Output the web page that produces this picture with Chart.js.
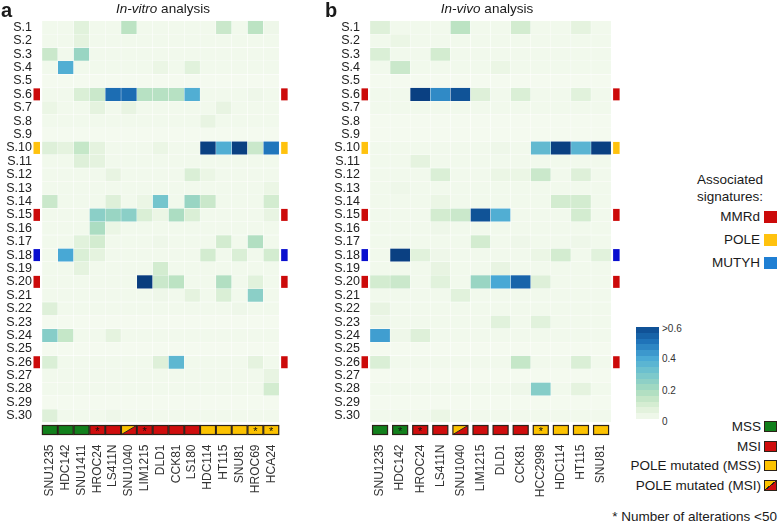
<!DOCTYPE html>
<html>
<head>
<meta charset="utf-8">
<script src="https://cdn.jsdelivr.net/npm/chart.js@4.4.1/dist/chart.umd.min.js"></script>
<style>
  body { margin: 0; background: #fff; font-family: 'Liberation Sans', Arial, sans-serif; color: #1a1a1a; }
  #page { position: relative; width: 778px; height: 525px; overflow: hidden; }
  .panel { position: absolute; top: 0; height: 500px; }
  .abs { position: absolute; white-space: nowrap; line-height: 1; }
  .letter { font-weight: bold; font-size: 20px; }
  .title { font-size: 13.5px; transform: translateX(-50%); }
  .leg { font-size: 13.5px; text-align: right; }
  .box { position: absolute; width: 13px; height: 12px; }
  .sbox { position: absolute; width: 11px; height: 9px; border: 1.3px solid #2b2118; }
  .cb { font-size: 10px; color: #333; }
</style>
</head>
<body>
<div id="page">
  <div class="panel" style="left:0;width:300px"><canvas id="vitro"></canvas></div>
  <div class="panel" style="left:320px;width:310px"><canvas id="vivo"></canvas></div>

  <div class="abs letter" style="left:1px;top:0px">a</div>
  <div class="abs title" style="left:163px;top:2px"><i>In-vitro</i> analysis</div>
  <div class="abs letter" style="left:325px;top:0px">b</div>
  <div class="abs title" style="left:487px;top:2px"><i>In-vivo</i> analysis</div>

  <div class="abs leg" style="left:680px;top:171px;width:100px;text-align:center;line-height:17px">Associated<br>signatures:</div>

  <div id="colorbar" class="abs" style="left:636px;top:327px;width:23px;height:92px"></div>
  <div class="abs cb" style="left:662px;top:324px">&gt;0.6</div>
  <div class="abs cb" style="left:662px;top:354px">0.4</div>
  <div class="abs cb" style="left:662px;top:386px">0.2</div>
  <div class="abs cb" style="left:662px;top:417px">0</div>

  <div class="abs leg" style="right:1px;top:510px">* Number of alterations &lt;50</div>
</div>
<script>
const rowLabels = ['S.1','S.2','S.3','S.4','S.5','S.6','S.7','S.8','S.9','S.10',
  'S.11','S.12','S.13','S.14','S.15','S.16','S.17','S.18','S.19','S.20',
  'S.21','S.22','S.23','S.24','S.25','S.26','S.27','S.28','S.29','S.30'];

// in-vitro panel
const vitroLines = ['SNU1235','HDC142','SNU1411','HROC24','LS411N','SNU1040','LIM1215','DLD1','CCK81','LS180','HDC114','HT115','SNU81','HROC69','HCA24'];
const vitroStatus = ['MSS','MSS','MSS','MSI','MSI','POLE_MSI','MSI','MSI','MSI','MSI','POLE','POLE','POLE','POLE','POLE'];
const vitroStar = [0,0,0,1,0,0,1,0,0,0,0,0,0,1,1];
const vitroValues = [
  [0.01,0.01,0.06,0.01,0.01,0.15,0.01,0.01,0.01,0.01,0.01,0.12,0.01,0.15,0.02],
  [0.01,0.01,0.05,0.01,0.01,0.01,0.01,0.01,0.01,0.01,0.01,0.01,0.01,0.01,0.01],
  [0.12,0.01,0.22,0.01,0.01,0.01,0.01,0.01,0.01,0.01,0.01,0.01,0.01,0.01,0.01],
  [0.01,0.38,0.01,0.01,0.01,0.01,0.01,0.03,0.01,0.06,0.01,0.01,0.01,0.01,0.01],
  [0,0,0,0,0,0,0,0,0,0,0,0,0,0,0],
  [0.01,0.01,0.08,0.12,0.52,0.52,0.16,0.16,0.16,0.38,0.01,0.01,0.01,0.02,0.01],
  [0.03,0.01,0.01,0.05,0.01,0.04,0.01,0.01,0.01,0.01,0.01,0.04,0.01,0.01,0.01],
  [0.01,0.01,0.01,0.01,0.01,0.01,0.01,0.01,0.01,0.01,0.04,0.01,0.01,0.01,0.01],
  [0,0,0,0,0,0,0,0,0,0,0,0,0,0,0],
  [0.07,0.05,0.13,0.05,0.01,0.01,0.01,0.03,0.01,0.01,0.66,0.38,0.66,0.12,0.5],
  [0.01,0.01,0.07,0.05,0.01,0.01,0.01,0.01,0.01,0.01,0.01,0.01,0.01,0.01,0.01],
  [0.01,0.01,0.01,0.01,0.04,0.01,0.01,0.01,0.01,0.08,0.03,0.01,0.01,0.01,0.01],
  [0.01,0.01,0.01,0.01,0.01,0.01,0.01,0.01,0.01,0.01,0.01,0.01,0.01,0.01,0.03],
  [0.12,0.01,0.01,0.01,0.07,0.01,0.03,0.3,0.01,0.22,0.12,0.01,0.01,0.01,0.1],
  [0.01,0.01,0.01,0.25,0.22,0.25,0.08,0.03,0.18,0.08,0.01,0.01,0.01,0.01,0.04],
  [0.01,0.01,0.01,0.18,0.03,0.01,0.01,0.01,0.01,0.01,0.01,0.01,0.01,0.01,0.01],
  [0.01,0.01,0.06,0.1,0.01,0.01,0.01,0.02,0.01,0.01,0.01,0.1,0.01,0.17,0.01],
  [0.01,0.4,0.08,0.05,0.01,0.01,0.01,0.01,0.01,0.01,0.1,0.01,0.08,0.01,0.1],
  [0.01,0.01,0.05,0.01,0.01,0.01,0.01,0.1,0.01,0.01,0.01,0.01,0.01,0.01,0.01],
  [0.01,0.01,0.01,0.01,0.01,0.01,0.68,0.12,0.15,0.01,0.01,0.17,0.01,0.06,0.01],
  [0.01,0.01,0.01,0.01,0.01,0.01,0.01,0.02,0.01,0.05,0.01,0.08,0.01,0.25,0.01],
  [0.07,0.01,0.01,0.01,0.01,0.01,0.01,0.01,0.01,0.01,0.01,0.01,0.02,0.01,0.01],
  [0,0,0,0,0,0,0,0,0,0,0,0,0,0,0],
  [0.26,0.13,0.01,0.01,0.05,0.01,0.01,0.01,0.01,0.01,0.01,0.01,0.01,0.01,0.01],
  [0,0,0,0,0,0,0,0,0,0,0,0,0,0,0],
  [0.08,0.01,0.01,0.01,0.01,0.01,0.01,0.07,0.35,0.01,0.01,0.01,0.01,0.05,0.01],
  [0.01,0.01,0.01,0.01,0.01,0.01,0.01,0.01,0.01,0.01,0.01,0.01,0.01,0.01,0.04],
  [0.01,0.01,0.01,0.01,0.01,0.01,0.01,0.01,0.01,0.01,0.01,0.01,0.01,0.01,0.1],
  [0,0,0,0,0,0,0,0,0,0,0,0,0,0,0],
  [0.07,0.01,0.01,0.01,0.02,0.01,0.01,0.01,0.01,0.01,0.01,0.01,0.01,0.01,0.01]
];

// in-vivo panel
const vivoLines = ['SNU1235','HDC142','HROC24','LS411N','SNU1040','LIM1215','DLD1','CCK81','HCC2998','HDC114','HT115','SNU81'];
const vivoStatus = ['MSS','MSS','MSI','MSI','POLE_MSI','MSI','MSI','MSI','POLE','POLE','POLE','POLE'];
const vivoStar = [0,1,1,0,0,0,0,0,1,0,0,0];
const vivoValues = [
  [0.07,0.01,0.01,0.01,0.15,0.01,0.01,0.1,0.01,0.01,0.05,0.01],
  [0.01,0.03,0.01,0.01,0.01,0.01,0.01,0.01,0.01,0.01,0.01,0.01],
  [0.08,0.01,0.01,0.1,0.01,0.01,0.01,0.01,0.01,0.01,0.01,0.01],
  [0.01,0.12,0.01,0.01,0.01,0.01,0.03,0.01,0.01,0.01,0.01,0.01],
  [0,0,0,0,0,0,0,0,0,0,0,0],
  [0.01,0.01,0.66,0.46,0.58,0.07,0.01,0.08,0.01,0.01,0.06,0.01],
  [0.01,0.01,0.01,0.01,0.01,0.01,0.01,0.01,0.01,0.01,0.01,0.01],
  [0,0,0,0,0,0,0,0,0,0,0,0],
  [0,0,0,0,0,0,0,0,0,0,0,0],
  [0.01,0.01,0.01,0.01,0.01,0.01,0.02,0.01,0.34,0.66,0.36,0.66],
  [0.01,0.01,0.05,0.01,0.01,0.01,0.01,0.01,0.01,0.01,0.01,0.01],
  [0.01,0.01,0.01,0.08,0.01,0.01,0.03,0.03,0.12,0.01,0.07,0.01],
  [0.01,0.02,0.01,0.01,0.01,0.01,0.01,0.01,0.01,0.01,0.01,0.01],
  [0.01,0.01,0.01,0.03,0.01,0.01,0.01,0.01,0.01,0.1,0.1,0.01],
  [0.01,0.01,0.01,0.1,0.12,0.58,0.38,0.01,0.01,0.01,0.1,0.01],
  [0.01,0.01,0.01,0.02,0.01,0.01,0.01,0.01,0.01,0.01,0.01,0.01],
  [0.01,0.01,0.01,0.01,0.01,0.1,0.01,0.02,0.01,0.01,0.02,0.01],
  [0.01,0.66,0.06,0.02,0.01,0.01,0.01,0.01,0.03,0.1,0.01,0.06],
  [0.01,0.01,0.01,0.04,0.01,0.01,0.04,0.01,0.01,0.01,0.01,0.01],
  [0.1,0.12,0.01,0.06,0.01,0.22,0.4,0.54,0.07,0.01,0.01,0.01],
  [0.01,0.01,0.01,0.01,0.06,0.01,0.01,0.01,0.01,0.01,0.01,0.01],
  [0.04,0.01,0.01,0.01,0.01,0.01,0.01,0.01,0.01,0.01,0.01,0.01],
  [0.02,0.01,0.01,0.01,0.01,0.01,0.06,0.01,0.06,0.01,0.01,0.01],
  [0.42,0.02,0.07,0.01,0.01,0.01,0.01,0.01,0.01,0.01,0.01,0.01],
  [0,0,0,0,0,0,0,0,0,0,0,0],
  [0.08,0.01,0.01,0.01,0.01,0.01,0.01,0.13,0.01,0.01,0.08,0.01],
  [0,0,0,0,0,0,0,0,0,0,0,0],
  [0.01,0.01,0.01,0.01,0.01,0.01,0.01,0.02,0.26,0.01,0.05,0.01],
  [0,0,0,0,0,0,0,0,0,0,0,0],
  [0.01,0.01,0.01,0.03,0.01,0.01,0.01,0.01,0.01,0.01,0.01,0.01]
];

// rows with an associated signature (markers on both sides)
const sigRows = ['S.6','S.10','S.15','S.18','S.20','S.26'];
const sigTypes = ['MMRd','POLE','MMRd','MUTYH','MMRd','MMRd'];
const sigLegend = ['MMRd','POLE','MUTYH'];
const statusLegend = ['MSS','MSI','POLE mutated (MSS)','POLE mutated (MSI)'];

const markColors = { MMRd: '#cc0a0a', POLE: '#ffc20e', MUTYH: '#0a0fcf' };
const legendColors = { MMRd: '#cc0a0a', POLE: '#ffc20e', MUTYH: '#1f7fd3' };
const statusColors = { MSS: '#12801c', MSI: '#cf0d0d', POLE: '#fcc200' };

const stops = [
  [0, [244, 250, 239]],
  [0.05, [229, 243, 223]],
  [0.1, [211, 236, 208]],
  [0.15, [188, 227, 195]],
  [0.2, [162, 217, 193]],
  [0.3, [116, 197, 205]],
  [0.4, [72, 168, 213]],
  [0.5, [32, 118, 188]],
  [0.6, [12, 74, 142]],
  [0.7, [8, 58, 122]]
];

function heatColor(v) {
  if (v >= stops[stops.length - 1][0]) return 'rgb(' + stops[stops.length - 1][1].join(',') + ')';
  for (let i = 1; i < stops.length; i++) {
    if (v <= stops[i][0]) {
      const [a, ca] = stops[i - 1];
      const [b, cb] = stops[i];
      const t = (v - a) / (b - a);
      const c = ca.map((x, k) => Math.round(x + (cb[k] - x) * t));
      return 'rgb(' + c.join(',') + ')';
    }
  }
}

function drawStatusBox(ctx, x0, y0, w, h, status, star) {
  if (status === 'POLE_MSI') {
    ctx.fillStyle = statusColors.POLE;
    ctx.beginPath(); ctx.moveTo(x0, y0); ctx.lineTo(x0 + w, y0); ctx.lineTo(x0, y0 + h); ctx.closePath(); ctx.fill();
    ctx.fillStyle = statusColors.MSI;
    ctx.beginPath(); ctx.moveTo(x0 + w, y0); ctx.lineTo(x0 + w, y0 + h); ctx.lineTo(x0, y0 + h); ctx.closePath(); ctx.fill();
    ctx.strokeStyle = '#2b2118';
    ctx.lineWidth = 1;
    ctx.beginPath(); ctx.moveTo(x0, y0 + h); ctx.lineTo(x0 + w, y0); ctx.stroke();
  } else {
    ctx.fillStyle = statusColors[status];
    ctx.fillRect(x0, y0, w, h);
  }
  ctx.strokeStyle = '#2b2118';
  ctx.lineWidth = 1.2;
  ctx.strokeRect(x0, y0, w, h);
  if (star) {
    ctx.fillStyle = '#111';
    ctx.font = '11px "Liberation Sans", Arial, sans-serif';
    ctx.textAlign = 'center';
    ctx.textBaseline = 'middle';
    ctx.fillText('*', x0 + w / 2, y0 + h / 2 + 2);
  }
}

function panelMarks(status, stars) {
  return {
    id: 'panelMarks',
    afterDraw(chart) {
      const { ctx, chartArea, scales: { x, y } } = chart;
      ctx.save();
      sigRows.forEach((name, k) => {
        const yc = y.getPixelForValue(rowLabels.indexOf(name) + 0.5);
        ctx.fillStyle = markColors[sigTypes[k]];
        ctx.fillRect(chartArea.left - 8.5, yc - 6, 6.5, 12);
        ctx.fillRect(chartArea.right + 2, yc - 6, 6.5, 12);
      });
      status.forEach((st, i) => {
        const xc = x.getPixelForValue(i);
        drawStatusBox(ctx, xc - 7.5, chartArea.bottom + 3, 15, 9, st, stars[i]);
      });
      ctx.restore();
    }
  };
}

function makeHeat(id, lines, values, status, stars, yWidth, padRight) {
  return new Chart(document.getElementById(id), {
    type: 'bar',
    data: {
      labels: lines,
      datasets: rowLabels.map((name, r) => ({
        label: name,
        data: lines.map(() => 1),
        backgroundColor: values[r].map(heatColor),
        borderColor: 'rgba(255,255,255,0.3)',
        borderWidth: 0.5,
        borderSkipped: false,
        barPercentage: 1,
        categoryPercentage: 1
      }))
    },
    options: {
      responsive: true,
      maintainAspectRatio: false,
      animation: false,
      layout: { padding: { top: 20.7, right: padRight, left: 0, bottom: 0 } },
      plugins: { legend: { display: false }, tooltip: { enabled: false } },
      scales: {
        x: {
          stacked: true,
          grid: { display: false },
          border: { display: false },
          ticks: {
            autoSkip: false, minRotation: 90, maxRotation: 90, padding: 14,
            color: '#333', font: { family: "'Liberation Sans', Arial, sans-serif", size: 12 }
          },
          afterFit: s => { s.height = 77.5; }
        },
        y: {
          stacked: true, reverse: true, min: 0, max: rowLabels.length,
          grid: { display: false, drawTicks: false },
          border: { display: false },
          afterBuildTicks: s => { s.ticks = rowLabels.map((_, i) => ({ value: i + 0.5 })); },
          ticks: {
            autoSkip: false, padding: 10, color: '#222',
            font: { family: "'Liberation Sans', Arial, sans-serif", size: 12.5 },
            callback: v => rowLabels[Math.floor(v)]
          },
          afterFit: s => { s.width = yWidth; }
        }
      }
    },
    plugins: [panelMarks(status, stars)]
  });
}

makeHeat('vitro', vitroLines, vitroValues, vitroStatus, vitroStar, 42, 11);
makeHeat('vivo', vivoLines, vivoValues, vivoStatus, vivoStar, 50, 13);

// legends
const page = document.getElementById('page');
const sigY = [217, 240, 263];
sigLegend.forEach((name, i) => {
  page.insertAdjacentHTML('beforeend',
    `<div class="abs leg" style="right:18px;top:${sigY[i] - 7}px">${name}</div>` +
    `<div class="box" style="left:764px;top:${sigY[i] - 6}px;background:${legendColors[name]}"></div>`);
});

const statY = [427, 447, 466, 486];
const statFill = [
  statusColors.MSS, statusColors.MSI, statusColors.POLE,
  `linear-gradient(to bottom right, ${statusColors.POLE} 0 46%, #2b2118 46% 54%, ${statusColors.MSI} 54%)`
];
statusLegend.forEach((name, i) => {
  page.insertAdjacentHTML('beforeend',
    `<div class="abs leg" style="right:17px;top:${statY[i] - 7}px">${name}</div>` +
    `<div class="sbox" style="left:764px;top:${statY[i] - 6}px;background:${statFill[i]}"></div>`);
});

// banded colour bar
const bands = 16;
const parts = [];
for (let b = 0; b < bands; b++) {
  const c = heatColor(0.6 * (b + 0.5) / bands);
  parts.push(`${c} ${(b / bands * 100).toFixed(2)}% ${((b + 1) / bands * 100).toFixed(2)}%`);
}
document.getElementById('colorbar').style.background = `linear-gradient(to top, ${parts.join(', ')})`;
</script>
</body>
</html>
